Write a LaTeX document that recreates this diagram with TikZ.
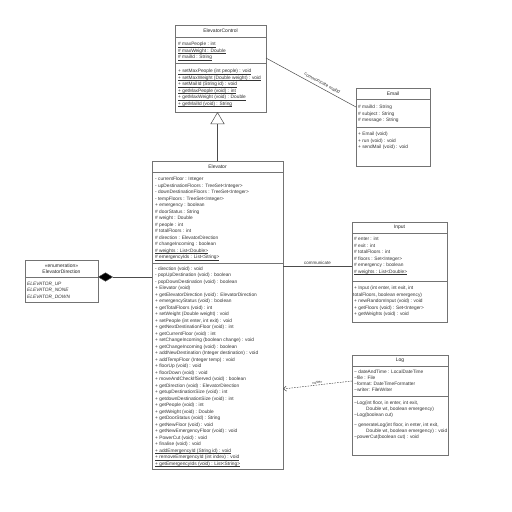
\documentclass[tikz,border=0pt]{standalone}
\usepackage{fontspec}
\setmainfont{Liberation Sans}
\usetikzlibrary{arrows.meta,calc}
\newcommand\tld{\textasciitilde}
\newcommand\ul[1]{\underline{\smash{#1}}}
\begin{document}
\begin{tikzpicture}[x=1pt,y=-1pt,
  box/.style={draw=black!55, line width=0.5pt, inner sep=0pt, outer sep=0pt, anchor=north west},
  sepl/.style={draw=black!55, line width=0.5pt},
  txt/.style={font=\fontsize{4.8}{5.5}\selectfont, text=black!80, inner sep=0pt, anchor=base west, yshift=-1.7pt},
  itl/.style={txt, font=\fontsize{4.8}{5.5}\selectfont\itshape},
  ttl/.style={font=\fontsize{5}{6}\selectfont, text=black!85, inner sep=0pt},
  lbl/.style={font=\fontsize{4.5}{5}\selectfont, text=black!80, inner sep=1pt},
  conn/.style={draw=black!70, line width=0.5pt}]
\useasboundingbox[fill=white] (0,0) rectangle (512,512);

% ElevatorControl
\node[box, minimum width=91pt, minimum height=87pt] (EC) at (175,25) {};
\node[ttl] (ECt) at (220.5,31) {ElevatorControl};
\draw[sepl] (175,37) -- (266,37);
\draw[sepl] (175,63) -- (266,63);
\foreach \t [count=\i] in {\ul{\# maxPeople : int},\ul{\# maxWeight : Double},\ul{\# mailId : String}}
  \node[txt] (eca\i) at (178,{44+6.5*(\i-1)}) {\t};
\begin{scope}
\clip (175,25) rectangle (265.6,112);
\foreach \t [count=\i] in {\ul{+ setMaxPeople (int people) : void},\ul{+ setMaxWeight (Double weight) : void},\ul{+ setMailId (String id) : void},\ul{+ getMaxPeople (void) : int},\ul{+ getMaxWeight (void) : Double},\ul{+ getMailId (void) : String}}
  \node[txt] (ecm\i) at (178,{71+6.5*(\i-1)}) {\t};
\end{scope}

% Email
\node[box, minimum width=74pt, minimum height=78pt] (EM) at (356,88) {};
\node[ttl] (EMt) at (393,93.5) {Email};
\draw[sepl] (356,99) -- (430,99);
\draw[sepl] (356,127) -- (430,127);
\foreach \t [count=\i] in {\# mailId : String,\# subject : String,\# message : String}
  \node[txt] (ema\i) at (358,{107+6.5*(\i-1)}) {\t};
\foreach \t [count=\i] in {+ Email (void),+ run (void) : void,+ sendMail (void) : void}
  \node[txt] (emm\i) at (358,{134+6.5*(\i-1)}) {\t};

% Elevator
\node[box, minimum width=131pt, minimum height=308pt] (EL) at (152,161) {};
\node[ttl] (ELt) at (217.5,166.5) {Elevator};
\draw[sepl] (152,172) -- (283,172);
\draw[sepl] (152,263) -- (283,263);
\foreach \t [count=\i] in {- currentFloor : Integer,- upDestinationFloors : TreeSet<Integer>,- downDestinationFloors : TreeSet<Integer>,- tempFloors : TreeSet<Integer>,+ emergency : boolean,\# doorStatus : String,\# weight : Double,\# people : int,\# totalFloors : int,\# direction : ElevatorDirection,\# changeIncoming : boolean,\ul{\# weights : List<Double>},\ul{\# emergencyIds : List<String>}}
  \node[txt] (ela\i) at (155,{179+6.5*(\i-1)}) {\t};
\foreach \t [count=\i] in {- direction (void) : void,- popUpDestination (void) : boolean,- popDownDestination (void) : boolean,+ Elevator (void),+ getElevatorDirection (void) : ElevatorDirection,+ emergencyStatus (void) : boolean,+ getTotalFloors (void) : int,+ setWeight (Double weight) : void,{+ setPeople (int enter, int exit) : void},+ getNextDestinationFloor (void) : int,+ getCurrentFloor (void) : int,+ setChangeIncoming (boolean change) : void,+ getChangeIncoming (void) : boolean,+ addNewDestination (Integer destination) : void,+ addTempFloor (Integer temp) : void,+ floorUp (void) : void,+ floorDown (void) : void,+ moveAndCheckIfServed (void) : boolean,+ getDirection (void) : ElevatorDirection,+ getupDestinationSize (void) : int,+ getdownDestinationSize (void) : int,+ getPeople (void) : int,+ getWeight (void) : Double,+ getDoorStatus (void) : String,+ getNewFloor (void) : void,+ getNewEmergencyFloor (void) : void,+ PowerCut (void) : void,+ finalise (void) : void,\ul{+ addEmergencyId (String id) : void},\ul{+ removeEmergencyId (int index) : void},\ul{+ getEmergencyIds (void) : List<String>}}
  \node[txt] (elm\i) at (155,{268.5+6.5*(\i-1)}) {\t};

% ElevatorDirection
\node[box, minimum width=73pt, minimum height=42pt] (ED) at (25,260) {};
\node[ttl] (EDt1) at (61.5,266) {<<enumeration>>};
\node[ttl] (EDt2) at (61.5,272) {ElevatorDirection};
\draw[sepl] (25,277) -- (98,277);
\foreach \t [count=\i] in {ELEVATOR\_UP,ELEVATOR\_NONE,ELEVATOR\_DOWN}
  \node[itl] (edv\i) at (27,{283.5+6.5*(\i-1)}) {\t};

% Input
\node[box, minimum width=95pt, minimum height=100pt] (IN) at (352,222) {};
\node[ttl] (INt) at (399.5,227.5) {Input};
\draw[sepl] (352,233) -- (447,233);
\draw[sepl] (352,281) -- (447,281);
\foreach \t [count=\i] in {\# enter : int,\# exit : int,\# totalFloors : int,\# floors : Set<Integer>,\# emergency : boolean,\ul{\# weights : List<Double>}}
  \node[txt] (ina\i) at (354,{239+6.5*(\i-1)}) {\t};
\node[txt] (inm1) at (354,288) {+ Input (int enter, int exit, int};
\node[txt] (inm2) at (353,294.5) {totalFloors, boolean emergency)};
\node[txt] (inm3) at (354,301) {+ newRandomInput (void) : void};
\node[txt] (inm4) at (354,307.5) {+ getFloors (void) : Set<Integer>};
\node[txt] (inm5) at (354,314) {+ getWeights (void) : void};

% Log
\node[box, minimum width=96pt, minimum height=100pt] (LG) at (352,355) {};
\node[ttl] (LGt) at (400,360) {Log};
\draw[sepl] (352,366) -- (448,366);
\draw[sepl] (352,396) -- (448,396);
\foreach \t [count=\i] in {\tld{} dateAndTime : LocalDateTime,\tld{}file : File,\tld{}format: DateTimeFormatter,\tld{}writer: FileWriter}
  \node[txt] (lga\i) at (354,{372+6*(\i-1)}) {\t};
\begin{scope}
\clip (352,355) rectangle (447.6,455);
\node[txt] (lgm1) at (354,403) {\tld{}Log(int floor, in enter, int exit,};
\node[txt] (lgm2) at (366,409) {Double wt, boolean emergency)};
\node[txt] (lgm3) at (354,415) {\tld{}Log(boolean cut)};
\node[txt] (lgm4) at (354,425) {\tld{} generateLog(int floor, in enter, int exit,};
\node[txt] (lgm5) at (366,431) {Double wt, boolean emergency) : void};
\node[txt] (lgm6) at (354,437) {\tld{}powerCut(boolean cut) : void};
\end{scope}

% connectors
\draw[conn, -{Triangle[open, fill=white, length=12pt, width=14pt]}] (EL.north) -- (EL.north |- EC.south);
\draw[conn] ($(EC.north east)+(0,33)$) -- node[lbl, sloped, above=2pt, pos=0.6] {communicate mailId} ($(EM.north west)+(0,19)$);
\draw[conn] ($(EL.north east)+(0,105)$) -- node[lbl, above] {communicate} ($(IN.north west)+(0,44)$);
\draw[conn, {Diamond[length=15pt, width=9pt, fill=black]}-] ($(ED.north east)+(0,17)$) -- ($(EL.north west)+(0,116)$);
\draw[conn, dash pattern=on 1.5pt off 1.2pt, -{Straight Barb[length=3pt, width=5pt]}] ($(LG.north west)+(0,26)$) -- node[lbl, sloped, above, font=\fontsize{3.8}{4}\selectfont] {<<use>>} ($(EL.north east)+(0,228)$);
\end{tikzpicture}
\end{document}
